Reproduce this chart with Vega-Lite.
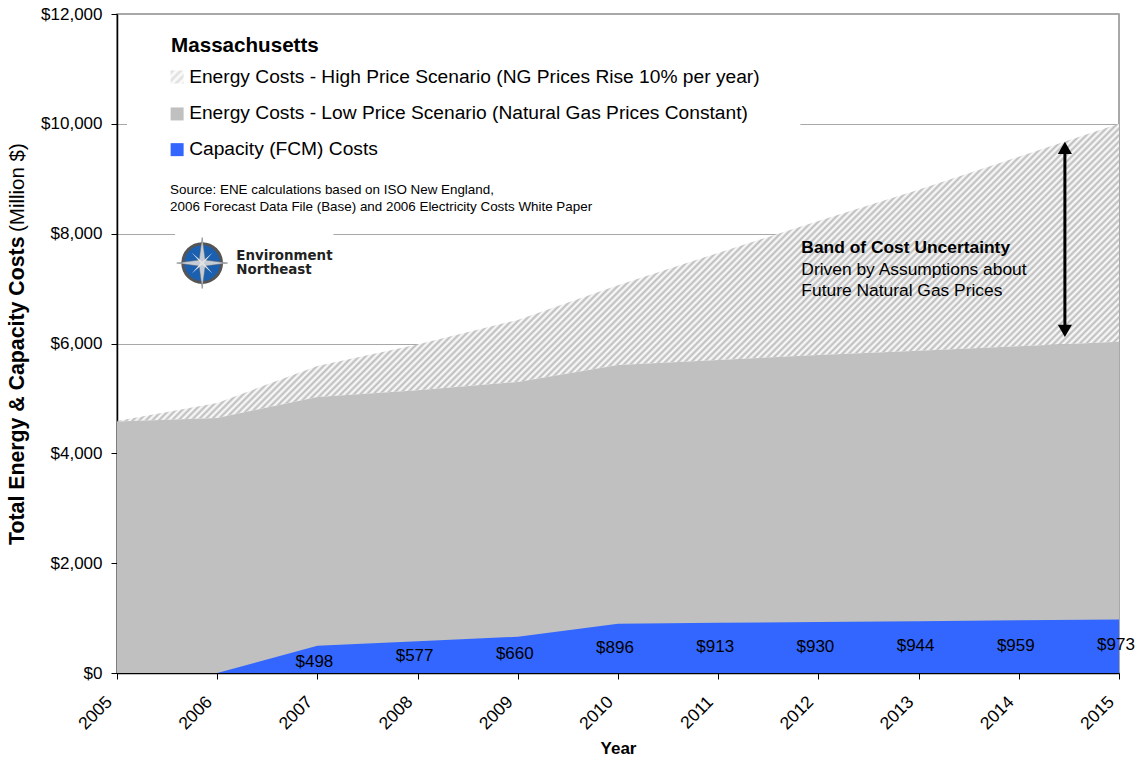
{"$schema":"https://vega.github.io/schema/vega-lite/v6.json","width":1002,"height":659,"autosize":{"type":"none"},"padding":{"left":117,"top":14,"right":18,"bottom":85},"background":"white","config":{"font":"Liberation Sans","view":{"stroke":"#8c8c8c","strokeWidth":1.5},"text":{"font":"Liberation Sans","color":"#000"}},"datasets":{"series":[{"year":2005,"low":4580,"high":4590,"capacity":0,"labelY":null},{"year":2006,"low":4645,"high":4918,"capacity":0,"labelY":null},{"year":2007,"low":5027,"high":5590,"capacity":498,"labelY":200},{"year":2008,"low":5150,"high":5980,"capacity":577,"labelY":310},{"year":2009,"low":5300,"high":6430,"capacity":660,"labelY":346},{"year":2010,"low":5610,"high":7060,"capacity":896,"labelY":455},{"year":2011,"low":5700,"high":7650,"capacity":913,"labelY":473},{"year":2012,"low":5790,"high":8230,"capacity":930,"labelY":473},{"year":2013,"low":5870,"high":8800,"capacity":944,"labelY":492},{"year":2014,"low":5950,"high":9400,"capacity":959,"labelY":492},{"year":2015,"low":6030,"high":10000,"capacity":973,"labelY":510}],"notes":[{"g":"head","x":2005.54,"y":11308,"t":"Massachusetts"},{"g":"leg","x":2005.72,"y":10744,"t":"Energy Costs - High Price Scenario (NG Prices Rise 10% per year)"},{"g":"leg","x":2005.72,"y":10088,"t":"Energy Costs - Low Price Scenario (Natural Gas Prices Constant)"},{"g":"leg","x":2005.72,"y":9432,"t":"Capacity (FCM) Costs"},{"g":"src","x":2005.53,"y":8722,"t":"Source: ENE calculations based on ISO New England,"},{"g":"src","x":2005.53,"y":8413,"t":"2006 Forecast Data File (Base) and 2006 Electricity Costs White Paper"},{"g":"bandh","x":2011.83,"y":7647,"t":"Band of Cost Uncertainty"},{"g":"band","x":2011.83,"y":7247,"t":"Driven by Assumptions about"},{"g":"band","x":2011.83,"y":6865,"t":"Future Natural Gas Prices"}],"blanks":[{"x":2005.1,"x2":2011.82,"y":9900,"y2":10100},{"x":2005.58,"x2":2007.16,"y":7950,"y2":8050}],"swatches":[{"name":"High","x":2005.6,"y":10853},{"name":"Low","x":2005.6,"y":10180},{"name":"Capacity","x":2005.6,"y":9530}],"ylabel":[{"x":2004.07,"y":2331,"t":"Total Energy & Capacity Costs","w":"b"},{"x":2004.07,"y":8030,"t":"(Million $)","w":"n"}],"logo":[{"x":2005.85,"y":7465}],"logotext":[{"x":2006.19,"y":7520,"t":"Environment"},{"x":2006.19,"y":7265,"t":"Northeast"}],"arrow":[{"x":2014.46,"y":6250,"y2":9550}],"heads":[{"x":2014.46,"y":6230,"s":"triangle-down"},{"x":2014.46,"y":9563,"s":"triangle-up"}]},"layer":[{"data":{"name":"blanks"},"mark":{"type":"rect","fill":"white"},"encoding":{"x":{"field":"x","type":"quantitative","scale":{"domain":[2005,2015],"nice":false,"zero":false},"axis":{"values":[2005,2006,2007,2008,2009,2010,2011,2012,2013,2014,2015],"format":"d","grid":false,"labelAngle":-45,"labelAlign":"right","labelBaseline":"middle","labelFontSize":17.5,"labelColor":"#000","labelPadding":20,"labelOffset":-8,"tickColor":"#000","tickSize":6,"domainColor":"#000","domainWidth":1.5,"title":"Year","titleFontSize":17,"titleFontWeight":"bold","titleColor":"#000","titlePadding":8,"zindex":0}},"x2":{"field":"x2"},"y":{"field":"y","type":"quantitative","scale":{"domain":[0,12000],"nice":false},"axis":{"values":[0,2000,4000,6000,8000,10000,12000],"format":"$,d","grid":true,"gridColor":"#a8a8a8","gridWidth":1,"labelFontSize":17,"labelColor":"#000","labelPadding":9,"tickColor":"#000","tickSize":6,"domainColor":"#000","domainWidth":1.5,"title":null,"zindex":0}},"y2":{"field":"y2"}}},{"data":{"name":"series"},"mark":{"type":"area","fill":{"gradient":"linear","x1":0,"y1":0,"x2":1.1917,"y2":0.3532,"stops":[{"offset":0.22,"color":"#bbb"},{"offset":0.2225,"color":"#fff"},{"offset":0.225,"color":"#bbb"},{"offset":0.2275,"color":"#fff"},{"offset":0.23,"color":"#bbb"},{"offset":0.2325,"color":"#fff"},{"offset":0.235,"color":"#bbb"},{"offset":0.2375,"color":"#fff"},{"offset":0.24,"color":"#bbb"},{"offset":0.2425,"color":"#fff"},{"offset":0.245,"color":"#bbb"},{"offset":0.2475,"color":"#fff"},{"offset":0.25,"color":"#bbb"},{"offset":0.2525,"color":"#fff"},{"offset":0.255,"color":"#bbb"},{"offset":0.2575,"color":"#fff"},{"offset":0.26,"color":"#bbb"},{"offset":0.2625,"color":"#fff"},{"offset":0.265,"color":"#bbb"},{"offset":0.2675,"color":"#fff"},{"offset":0.27,"color":"#bbb"},{"offset":0.2725,"color":"#fff"},{"offset":0.275,"color":"#bbb"},{"offset":0.2775,"color":"#fff"},{"offset":0.28,"color":"#bbb"},{"offset":0.2825,"color":"#fff"},{"offset":0.285,"color":"#bbb"},{"offset":0.2875,"color":"#fff"},{"offset":0.29,"color":"#bbb"},{"offset":0.2925,"color":"#fff"},{"offset":0.295,"color":"#bbb"},{"offset":0.2975,"color":"#fff"},{"offset":0.3,"color":"#bbb"},{"offset":0.3025,"color":"#fff"},{"offset":0.305,"color":"#bbb"},{"offset":0.3075,"color":"#fff"},{"offset":0.31,"color":"#bbb"},{"offset":0.3125,"color":"#fff"},{"offset":0.315,"color":"#bbb"},{"offset":0.3175,"color":"#fff"},{"offset":0.32,"color":"#bbb"},{"offset":0.3225,"color":"#fff"},{"offset":0.325,"color":"#bbb"},{"offset":0.3275,"color":"#fff"},{"offset":0.33,"color":"#bbb"},{"offset":0.3325,"color":"#fff"},{"offset":0.335,"color":"#bbb"},{"offset":0.3375,"color":"#fff"},{"offset":0.34,"color":"#bbb"},{"offset":0.3425,"color":"#fff"},{"offset":0.345,"color":"#bbb"},{"offset":0.3475,"color":"#fff"},{"offset":0.35,"color":"#bbb"},{"offset":0.3525,"color":"#fff"},{"offset":0.355,"color":"#bbb"},{"offset":0.3575,"color":"#fff"},{"offset":0.36,"color":"#bbb"},{"offset":0.3625,"color":"#fff"},{"offset":0.365,"color":"#bbb"},{"offset":0.3675,"color":"#fff"},{"offset":0.37,"color":"#bbb"},{"offset":0.3725,"color":"#fff"},{"offset":0.375,"color":"#bbb"},{"offset":0.3775,"color":"#fff"},{"offset":0.38,"color":"#bbb"},{"offset":0.3825,"color":"#fff"},{"offset":0.385,"color":"#bbb"},{"offset":0.3875,"color":"#fff"},{"offset":0.39,"color":"#bbb"},{"offset":0.3925,"color":"#fff"},{"offset":0.395,"color":"#bbb"},{"offset":0.3975,"color":"#fff"},{"offset":0.4,"color":"#bbb"},{"offset":0.4025,"color":"#fff"},{"offset":0.405,"color":"#bbb"},{"offset":0.4075,"color":"#fff"},{"offset":0.41,"color":"#bbb"},{"offset":0.4125,"color":"#fff"},{"offset":0.415,"color":"#bbb"},{"offset":0.4175,"color":"#fff"},{"offset":0.42,"color":"#bbb"},{"offset":0.4225,"color":"#fff"},{"offset":0.425,"color":"#bbb"},{"offset":0.4275,"color":"#fff"},{"offset":0.43,"color":"#bbb"},{"offset":0.4325,"color":"#fff"},{"offset":0.435,"color":"#bbb"},{"offset":0.4375,"color":"#fff"},{"offset":0.44,"color":"#bbb"},{"offset":0.4425,"color":"#fff"},{"offset":0.445,"color":"#bbb"},{"offset":0.4475,"color":"#fff"},{"offset":0.45,"color":"#bbb"},{"offset":0.4525,"color":"#fff"},{"offset":0.455,"color":"#bbb"},{"offset":0.4575,"color":"#fff"},{"offset":0.46,"color":"#bbb"},{"offset":0.4625,"color":"#fff"},{"offset":0.465,"color":"#bbb"},{"offset":0.4675,"color":"#fff"},{"offset":0.47,"color":"#bbb"},{"offset":0.4725,"color":"#fff"},{"offset":0.475,"color":"#bbb"},{"offset":0.4775,"color":"#fff"},{"offset":0.48,"color":"#bbb"},{"offset":0.4825,"color":"#fff"},{"offset":0.485,"color":"#bbb"},{"offset":0.4875,"color":"#fff"},{"offset":0.49,"color":"#bbb"},{"offset":0.4925,"color":"#fff"},{"offset":0.495,"color":"#bbb"},{"offset":0.4975,"color":"#fff"},{"offset":0.5,"color":"#bbb"},{"offset":0.5025,"color":"#fff"},{"offset":0.505,"color":"#bbb"},{"offset":0.5075,"color":"#fff"},{"offset":0.51,"color":"#bbb"},{"offset":0.5125,"color":"#fff"},{"offset":0.515,"color":"#bbb"},{"offset":0.5175,"color":"#fff"},{"offset":0.52,"color":"#bbb"},{"offset":0.5225,"color":"#fff"},{"offset":0.525,"color":"#bbb"},{"offset":0.5275,"color":"#fff"},{"offset":0.53,"color":"#bbb"},{"offset":0.5325,"color":"#fff"},{"offset":0.535,"color":"#bbb"},{"offset":0.5375,"color":"#fff"},{"offset":0.54,"color":"#bbb"},{"offset":0.5425,"color":"#fff"},{"offset":0.545,"color":"#bbb"},{"offset":0.5475,"color":"#fff"},{"offset":0.55,"color":"#bbb"},{"offset":0.5525,"color":"#fff"},{"offset":0.555,"color":"#bbb"},{"offset":0.5575,"color":"#fff"},{"offset":0.56,"color":"#bbb"},{"offset":0.5625,"color":"#fff"},{"offset":0.565,"color":"#bbb"},{"offset":0.5675,"color":"#fff"},{"offset":0.57,"color":"#bbb"},{"offset":0.5725,"color":"#fff"},{"offset":0.575,"color":"#bbb"},{"offset":0.5775,"color":"#fff"},{"offset":0.58,"color":"#bbb"},{"offset":0.5825,"color":"#fff"},{"offset":0.585,"color":"#bbb"},{"offset":0.5875,"color":"#fff"},{"offset":0.59,"color":"#bbb"},{"offset":0.5925,"color":"#fff"},{"offset":0.595,"color":"#bbb"},{"offset":0.5975,"color":"#fff"},{"offset":0.6,"color":"#bbb"},{"offset":0.6025,"color":"#fff"},{"offset":0.605,"color":"#bbb"},{"offset":0.6075,"color":"#fff"},{"offset":0.61,"color":"#bbb"},{"offset":0.6125,"color":"#fff"},{"offset":0.615,"color":"#bbb"},{"offset":0.6175,"color":"#fff"},{"offset":0.62,"color":"#bbb"},{"offset":0.6225,"color":"#fff"},{"offset":0.625,"color":"#bbb"},{"offset":0.6275,"color":"#fff"},{"offset":0.63,"color":"#bbb"},{"offset":0.6325,"color":"#fff"},{"offset":0.635,"color":"#bbb"},{"offset":0.6375,"color":"#fff"},{"offset":0.64,"color":"#bbb"},{"offset":0.6425,"color":"#fff"},{"offset":0.645,"color":"#bbb"},{"offset":0.6475,"color":"#fff"},{"offset":0.65,"color":"#bbb"},{"offset":0.6525,"color":"#fff"},{"offset":0.655,"color":"#bbb"},{"offset":0.6575,"color":"#fff"},{"offset":0.66,"color":"#bbb"},{"offset":0.6625,"color":"#fff"},{"offset":0.665,"color":"#bbb"},{"offset":0.6675,"color":"#fff"},{"offset":0.67,"color":"#bbb"},{"offset":0.6725,"color":"#fff"},{"offset":0.675,"color":"#bbb"},{"offset":0.6775,"color":"#fff"},{"offset":0.68,"color":"#bbb"},{"offset":0.6825,"color":"#fff"},{"offset":0.685,"color":"#bbb"},{"offset":0.6875,"color":"#fff"},{"offset":0.69,"color":"#bbb"},{"offset":0.6925,"color":"#fff"},{"offset":0.695,"color":"#bbb"},{"offset":0.6975,"color":"#fff"},{"offset":0.7,"color":"#bbb"},{"offset":0.7025,"color":"#fff"},{"offset":0.705,"color":"#bbb"},{"offset":0.7075,"color":"#fff"},{"offset":0.71,"color":"#bbb"},{"offset":0.7125,"color":"#fff"},{"offset":0.715,"color":"#bbb"},{"offset":0.7175,"color":"#fff"},{"offset":0.72,"color":"#bbb"},{"offset":0.7225,"color":"#fff"},{"offset":0.725,"color":"#bbb"},{"offset":0.7275,"color":"#fff"},{"offset":0.73,"color":"#bbb"},{"offset":0.7325,"color":"#fff"},{"offset":0.735,"color":"#bbb"},{"offset":0.7375,"color":"#fff"},{"offset":0.74,"color":"#bbb"},{"offset":0.7425,"color":"#fff"},{"offset":0.745,"color":"#bbb"},{"offset":0.7475,"color":"#fff"},{"offset":0.75,"color":"#bbb"},{"offset":0.7525,"color":"#fff"},{"offset":0.755,"color":"#bbb"},{"offset":0.7575,"color":"#fff"},{"offset":0.76,"color":"#bbb"},{"offset":0.7625,"color":"#fff"},{"offset":0.765,"color":"#bbb"},{"offset":0.7675,"color":"#fff"},{"offset":0.77,"color":"#bbb"},{"offset":0.7725,"color":"#fff"},{"offset":0.775,"color":"#bbb"},{"offset":0.7775,"color":"#fff"},{"offset":0.78,"color":"#bbb"},{"offset":0.7825,"color":"#fff"},{"offset":0.785,"color":"#bbb"},{"offset":0.7875,"color":"#fff"},{"offset":0.79,"color":"#bbb"},{"offset":0.7925,"color":"#fff"},{"offset":0.795,"color":"#bbb"},{"offset":0.7975,"color":"#fff"},{"offset":0.8,"color":"#bbb"},{"offset":0.8025,"color":"#fff"},{"offset":0.805,"color":"#bbb"},{"offset":0.8075,"color":"#fff"},{"offset":0.81,"color":"#bbb"},{"offset":0.8125,"color":"#fff"},{"offset":0.815,"color":"#bbb"},{"offset":0.8175,"color":"#fff"},{"offset":0.82,"color":"#bbb"},{"offset":0.8225,"color":"#fff"},{"offset":0.825,"color":"#bbb"},{"offset":0.8275,"color":"#fff"},{"offset":0.83,"color":"#bbb"},{"offset":0.8325,"color":"#fff"},{"offset":0.835,"color":"#bbb"},{"offset":0.8375,"color":"#fff"},{"offset":0.84,"color":"#bbb"},{"offset":0.8425,"color":"#fff"},{"offset":0.845,"color":"#bbb"},{"offset":0.8475,"color":"#fff"},{"offset":0.85,"color":"#bbb"},{"offset":0.8525,"color":"#fff"},{"offset":0.855,"color":"#bbb"},{"offset":0.8575,"color":"#fff"},{"offset":0.86,"color":"#bbb"},{"offset":0.8625,"color":"#fff"},{"offset":0.865,"color":"#bbb"},{"offset":0.8675,"color":"#fff"},{"offset":0.87,"color":"#bbb"},{"offset":0.8725,"color":"#fff"},{"offset":0.875,"color":"#bbb"},{"offset":0.8775,"color":"#fff"},{"offset":0.88,"color":"#bbb"},{"offset":0.8825,"color":"#fff"},{"offset":0.885,"color":"#bbb"},{"offset":0.8875,"color":"#fff"},{"offset":0.89,"color":"#bbb"},{"offset":0.8925,"color":"#fff"},{"offset":0.895,"color":"#bbb"},{"offset":0.8975,"color":"#fff"},{"offset":0.9,"color":"#bbb"},{"offset":0.9025,"color":"#fff"},{"offset":0.905,"color":"#bbb"},{"offset":0.9075,"color":"#fff"},{"offset":0.91,"color":"#bbb"},{"offset":0.9125,"color":"#fff"},{"offset":0.915,"color":"#bbb"},{"offset":0.9175,"color":"#fff"},{"offset":0.92,"color":"#bbb"},{"offset":0.9225,"color":"#fff"},{"offset":0.925,"color":"#bbb"},{"offset":0.9275,"color":"#fff"},{"offset":0.93,"color":"#bbb"},{"offset":0.9325,"color":"#fff"},{"offset":0.935,"color":"#bbb"},{"offset":0.9375,"color":"#fff"},{"offset":0.94,"color":"#bbb"}]}},"encoding":{"x":{"field":"year","type":"quantitative"},"y":{"field":"low","type":"quantitative"},"y2":{"field":"high"}}},{"data":{"name":"series"},"mark":{"type":"area","color":"#c0c0c0"},"encoding":{"x":{"field":"year","type":"quantitative"},"y":{"field":"low","type":"quantitative"}}},{"data":{"name":"series"},"mark":{"type":"area","color":"#3366ff"},"encoding":{"x":{"field":"year","type":"quantitative"},"y":{"field":"capacity","type":"quantitative"}}},{"data":{"name":"series"},"transform":[{"filter":"datum.capacity > 0"}],"mark":{"type":"text","fontSize":17,"align":"center","baseline":"middle","dx":-3},"encoding":{"x":{"field":"year","type":"quantitative"},"y":{"field":"labelY","type":"quantitative"},"text":{"field":"capacity","format":"$,d"}}},{"mark":{"type":"rule","color":"#000","strokeWidth":1.5},"encoding":{"y":{"datum":0}}},{"mark":{"type":"rule","color":"#000","strokeWidth":1.5},"encoding":{"x":{"datum":2005}}},{"data":{"name":"arrow"},"mark":{"type":"rule","color":"#000","strokeWidth":3},"encoding":{"x":{"field":"x","type":"quantitative"},"y":{"field":"y","type":"quantitative"},"y2":{"field":"y2"}}},{"data":{"name":"heads"},"mark":{"type":"point","filled":true,"color":"#000","size":200,"opacity":1},"encoding":{"x":{"field":"x","type":"quantitative"},"y":{"field":"y","type":"quantitative"},"shape":{"field":"s","type":"nominal","scale":null}}},{"data":{"name":"swatches"},"transform":[{"filter":"datum.name === 'High'"}],"mark":{"type":"point","shape":"square","size":169,"opacity":1,"filled":true,"fill":{"gradient":"linear","x1":0,"y1":0,"x2":1,"y2":1,"stops":[{"offset":0.1,"color":"#ddd"},{"offset":0.25,"color":"#fff"},{"offset":0.4,"color":"#ddd"},{"offset":0.55,"color":"#fff"},{"offset":0.7,"color":"#ddd"},{"offset":0.85,"color":"#fff"},{"offset":1,"color":"#ddd"}]}},"encoding":{"x":{"field":"x","type":"quantitative"},"y":{"field":"y","type":"quantitative"}}},{"data":{"name":"swatches"},"transform":[{"filter":"datum.name !== 'High'"}],"mark":{"type":"point","shape":"square","size":169,"opacity":1,"filled":true},"encoding":{"x":{"field":"x","type":"quantitative"},"y":{"field":"y","type":"quantitative"},"color":{"field":"name","type":"nominal","legend":null,"scale":{"domain":["Low","Capacity"],"range":["#c0c0c0","#3366ff"]}}}},{"data":{"name":"notes"},"transform":[{"filter":"datum.g === 'head'"}],"mark":{"type":"text","fontWeight":"bold","fontSize":20.6,"align":"left","baseline":"alphabetic"},"encoding":{"x":{"field":"x","type":"quantitative"},"y":{"field":"y","type":"quantitative"},"text":{"field":"t"}}},{"data":{"name":"notes"},"transform":[{"filter":"datum.g === 'bandh'"}],"mark":{"type":"text","fontWeight":"bold","fontSize":17.4,"align":"left","baseline":"alphabetic"},"encoding":{"x":{"field":"x","type":"quantitative"},"y":{"field":"y","type":"quantitative"},"text":{"field":"t"}}},{"data":{"name":"notes"},"transform":[{"filter":"datum.g === 'leg'"}],"mark":{"type":"text","fontSize":19.2,"align":"left","baseline":"alphabetic"},"encoding":{"x":{"field":"x","type":"quantitative"},"y":{"field":"y","type":"quantitative"},"text":{"field":"t"}}},{"data":{"name":"notes"},"transform":[{"filter":"datum.g === 'src'"}],"mark":{"type":"text","fontSize":13.4,"align":"left","baseline":"alphabetic"},"encoding":{"x":{"field":"x","type":"quantitative"},"y":{"field":"y","type":"quantitative"},"text":{"field":"t"}}},{"data":{"name":"notes"},"transform":[{"filter":"datum.g === 'band'"}],"mark":{"type":"text","fontSize":17.4,"align":"left","baseline":"alphabetic"},"encoding":{"x":{"field":"x","type":"quantitative"},"y":{"field":"y","type":"quantitative"},"text":{"field":"t"}}},{"data":{"name":"ylabel"},"transform":[{"filter":"datum.w === 'b'"}],"mark":{"type":"text","fontSize":21.3,"fontWeight":"bold","angle":270,"align":"left","baseline":"alphabetic"},"encoding":{"x":{"field":"x","type":"quantitative"},"y":{"field":"y","type":"quantitative"},"text":{"field":"t"}}},{"data":{"name":"ylabel"},"transform":[{"filter":"datum.w === 'n'"}],"mark":{"type":"text","fontSize":20.5,"angle":270,"align":"left","baseline":"alphabetic"},"encoding":{"x":{"field":"x","type":"quantitative"},"y":{"field":"y","type":"quantitative"},"text":{"field":"t"}}},{"data":{"name":"logo"},"mark":{"type":"point","shape":"circle","size":1500,"filled":true,"opacity":1,"fill":"#1a5fb0","stroke":"#555","strokeWidth":3},"encoding":{"x":{"field":"x","type":"quantitative"},"y":{"field":"y","type":"quantitative"}}},{"data":{"name":"logo"},"mark":{"type":"point","shape":"M0,-1 L0.12,-0.12 L1,0 L0.12,0.12 L0,1 L-0.12,0.12 L-1,0 L-0.12,-0.12Z","size":2600,"filled":true,"opacity":1,"fill":"#c5ccd6","stroke":"#666","strokeWidth":0.5},"encoding":{"x":{"field":"x","type":"quantitative"},"y":{"field":"y","type":"quantitative"}}},{"data":{"name":"logo"},"mark":{"type":"point","shape":"M0.6,-0.6 L0.08,0 L0.6,0.6 L0,0.08 L-0.6,0.6 L-0.08,0 L-0.6,-0.6 L0,-0.08Z","size":1200,"filled":true,"opacity":1,"fill":"#e4e4e4"},"encoding":{"x":{"field":"x","type":"quantitative"},"y":{"field":"y","type":"quantitative"}}},{"data":{"name":"logotext"},"mark":{"type":"text","font":"DejaVu Sans","fontWeight":"bold","fontSize":13.4,"color":"#222","align":"left","baseline":"alphabetic"},"encoding":{"x":{"field":"x","type":"quantitative"},"y":{"field":"y","type":"quantitative"},"text":{"field":"t"}}}]}
